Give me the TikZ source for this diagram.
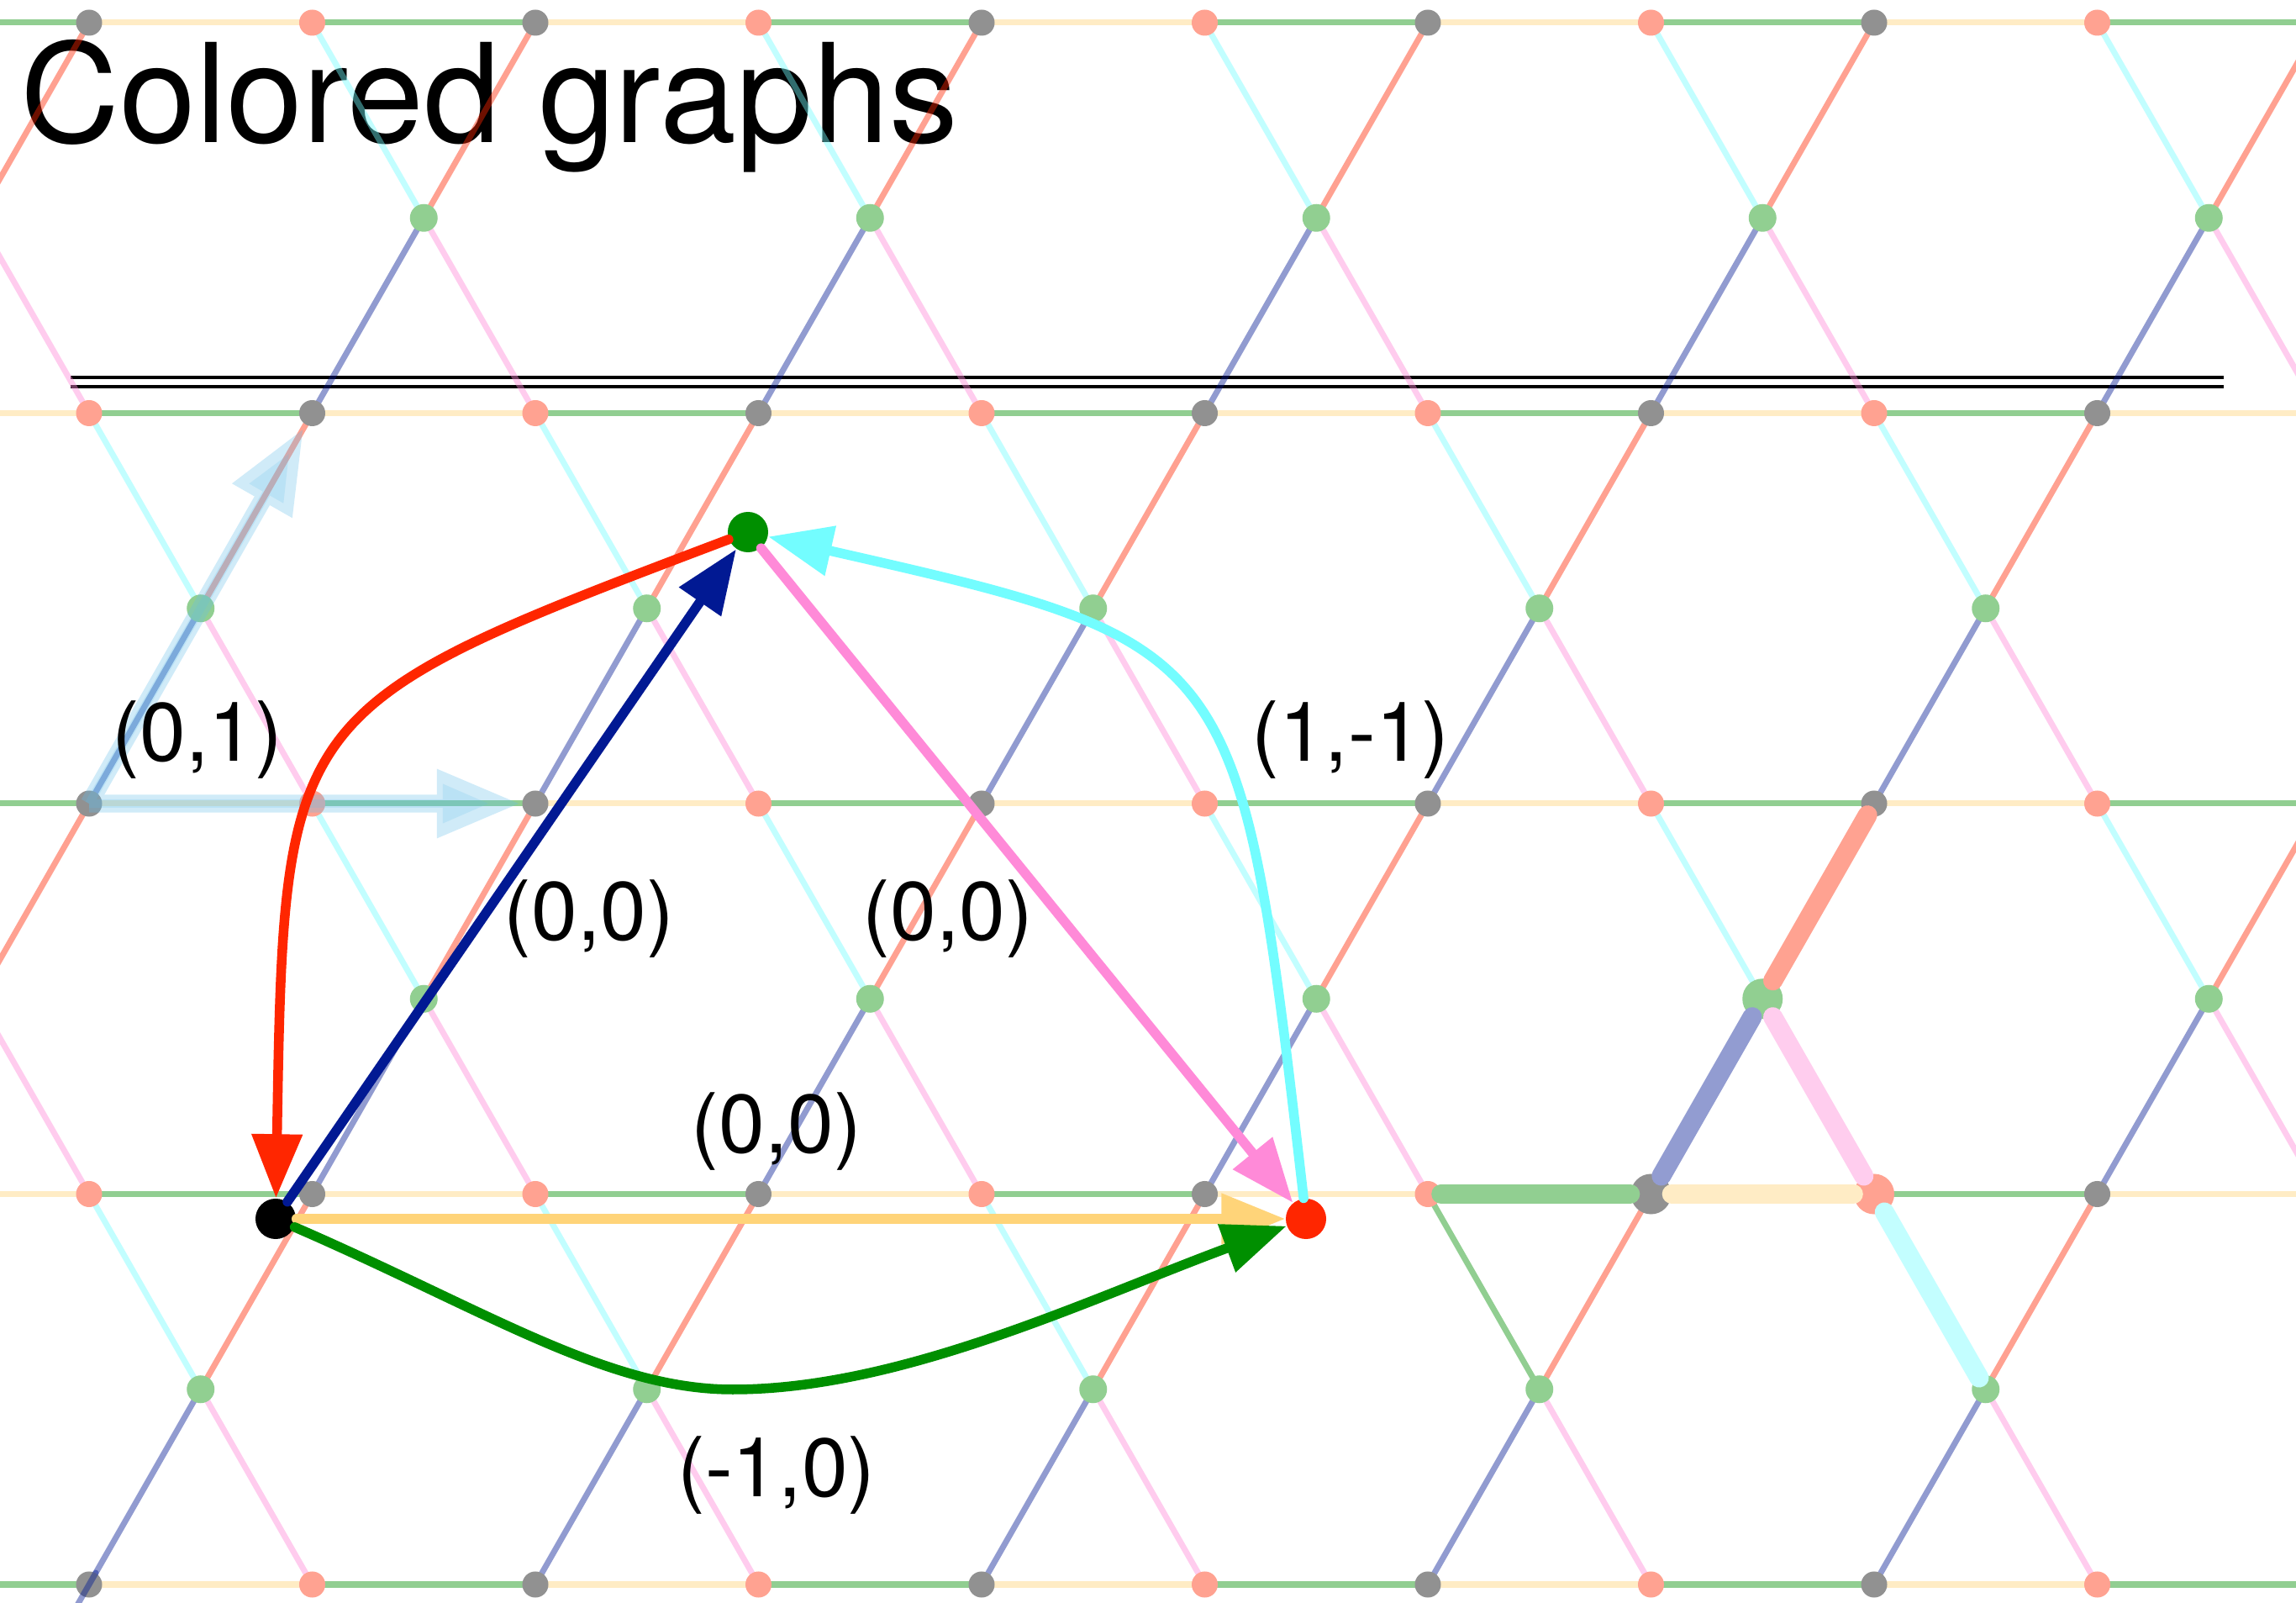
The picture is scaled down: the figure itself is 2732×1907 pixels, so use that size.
\documentclass[tikz,border=0pt]{standalone}
\usepackage{fontspec}
\setmainfont{TeX Gyre Heros}
\usetikzlibrary{arrows.meta,calc}
\definecolor{cred}{RGB}{255,38,0}
\definecolor{cblue}{RGB}{1,25,147}
\definecolor{cpink}{RGB}{255,138,216}
\definecolor{ccyan}{RGB}{115,253,255}
\definecolor{cyel}{RGB}{255,212,121}
\definecolor{cgreen}{RGB}{0,143,0}
\definecolor{cfaint}{RGB}{100,190,235}
\colorlet{lred}{cred!43!white}
\colorlet{lblue}{cblue!43!white}
\colorlet{lpink}{cpink!43!white}
\colorlet{lcyan}{ccyan!43!white}
\colorlet{lyel}{cyel!43!white}
\colorlet{lgreen}{cgreen!43!white}
\colorlet{lgray}{black!43!white}
\begin{document}
\begin{tikzpicture}[x=0.01cm,y=-0.01cm,
  lat/.style={line width=0.07cm, draw opacity=0.43, line cap=round},
  hl/.style={line width=0.23cm, line cap=round},
  fg/.style={line width=0.115cm, line cap=round, -{Triangle[length=0.76cm,width=0.58cm]}},
  vtx/.style={circle, inner sep=0pt, minimum size=0.48cm},
  smallvtx/.style={circle, inner sep=0pt, minimum size=0.30cm},
  lab/.style={inner sep=0pt, font=\fontsize{28}{34}\selectfont},
  faintout/.style={draw=cfaint, line width=0.21cm, -{Triangle[length=1cm,width=0.76cm]}},
  faintin/.style={draw=cfaint, line width=0.10cm, -{Triangle[length=0.55cm,width=0.44cm]}}
]
\useasboundingbox (0,0) rectangle (2732,1907);
\fill[white] (0,0) rectangle (2732,1907);

% title
\node[anchor=base west, inner sep=0pt, font=\fontsize{46.5}{56}\selectfont] (title) at (24,170) {Colored graphs};

% double rule
\draw[line width=0.04cm] (84,449.5) -- (2646,449.5);
\draw[line width=0.04cm] (84,460) -- (2646,460);

% lattice points
\foreach \r in {0,...,4}{
  \foreach \k in {0,...,13}{
    \coordinate (v\k-\r) at ({-425+265.5*\k},{27+464.5*\r});
  }
}
\foreach \r in {0,...,3}{
  \foreach \k in {0,...,12}{
    \pgfmathtruncatemacro\pp{mod(\k+\r,2)}
    \ifnum\pp=1
      \coordinate (c\k-\r) at ({-425+265.5*(\k+0.5)},{27+464.5*(\r+0.5)});
    \fi
  }
}

\begin{scope}
\clip (0,0) rectangle (2732,1907);
% horizontal edges
\foreach \r in {0,...,4}{
  \foreach \k in {0,...,12}{
    \pgfmathtruncatemacro\kk{\k+1}
    \pgfmathtruncatemacro\pp{mod(\k+\r,2)}
    \ifnum\pp=1 \def\hc{cgreen}\else\def\hc{cyel}\fi
    \draw[lat, draw=\hc] (v\k-\r) -- (v\kk-\r);
  }
}
% diagonal edges
\foreach \r in {0,...,3}{
  \foreach \k in {0,...,12}{
    \pgfmathtruncatemacro\pp{mod(\k+\r,2)}
    \ifnum\pp=1
      \pgfmathtruncatemacro\kk{\k+1}
      \pgfmathtruncatemacro\rr{\r+1}
      \def\ulc{ccyan}
      \ifnum\k=8 \ifnum\r=3 \def\ulc{cgreen}\fi\fi
      \draw[lat, draw=\ulc] (c\k-\r) -- (v\k-\r);
      \draw[lat, draw=cred] (c\k-\r) -- (v\kk-\r);
      \draw[lat, draw=cblue] (c\k-\r) -- (v\k-\rr);
      \draw[lat, draw=cpink] (c\k-\r) -- (v\kk-\rr);
    \fi
  }
}
% lattice dots
\foreach \r in {0,...,4}{
  \foreach \k in {0,...,13}{
    \pgfmathtruncatemacro\pp{mod(\k+\r,2)}
    \ifnum\pp=1 \fill[lred] (v\k-\r) circle[radius=0.155cm];
    \else \fill[lgray] (v\k-\r) circle[radius=0.155cm];\fi
  }
}
\foreach \r in {0,...,3}{
  \foreach \k in {0,...,12}{
    \pgfmathtruncatemacro\pp{mod(\k+\r,2)}
    \ifnum\pp=1 \fill[lgreen] (c\k-\r) circle[radius=0.165cm];\fi
  }
}
\draw[lat, draw=cblue] ($(c2-3)!0.94!(v2-4)$) -- ($(c2-3)!1.12!(v2-4)$);
\end{scope}

% faint lattice vectors
\begin{scope}[transparency group, opacity=0.3]
\draw[faintout, shorten >=0.17cm] (v2-2) -- (v4-2);
\draw[faintout, shorten >=0.2cm] (v2-2) -- (v3-1);
\end{scope}
\begin{scope}[transparency group, opacity=0.2]
\draw[faintin, shorten >=0.55cm] (v2-2) -- (v4-2);
\draw[faintin, shorten >=0.55cm] (v2-2) -- (v3-1);
\end{scope}

% highlighted star
\node[vtx, fill=lgray] (hg) at (v9-3) {};
\node[vtx, fill=lgreen] (hc) at (c9-2) {};
\node[vtx, fill=lred] (hr) at (v10-3) {};
\node[smallvtx] (hs) at (v8-3) {};
\node[smallvtx] (hu) at (v10-2) {};
\node[smallvtx] (hd) at (c10-3) {};
\draw[hl, lgreen] (hs) -- (hg);
\draw[hl, lyel] (hg) -- (hr);
\draw[hl, lblue] (hg) -- (hc);
\draw[hl, lred] (hc) -- (hu);
\draw[hl, lpink] (hc) -- (hr);
\draw[hl, lcyan] (hr) -- (hd);

% colored graph
\node[vtx, fill=black] (kv) at (328,1450) {};
\node[vtx, fill=cgreen] (gv) at (890,633) {};
\node[vtx, fill=cred] (rv) at (1554,1450) {};
\coordinate (gbot) at (872,1653);

\draw[fg, cyel] (kv) -- (rv);
\draw[fg, cblue] (kv) -- (gv);
\draw[fg, cred] (gv) .. controls (338,842) and (338,842) .. (kv);
\draw[fg, cpink] (gv) -- (rv);
\draw[fg, ccyan] (rv) .. controls (1475,766) and (1475,766) .. (gv);
\draw[fg, cgreen] (kv) .. controls (578.5,1558.75) and (722,1653) .. (gbot)
   .. controls (1072,1653) and (1293.5,1546.5) .. (rv);

% labels
\node[lab] (l1) at (235,880) {(0,1)};
\node[lab] (l2) at (701,1093) {(0,0)};
\node[lab] (l3) at (1128,1093) {(0,0)};
\node[lab] (l4) at (1607,880) {(1,-1)};
\node[lab] (l5) at (924,1346) {(0,0)};
\node[lab] (l6) at (924,1755) {(-1,0)};
\end{tikzpicture}
\end{document}
